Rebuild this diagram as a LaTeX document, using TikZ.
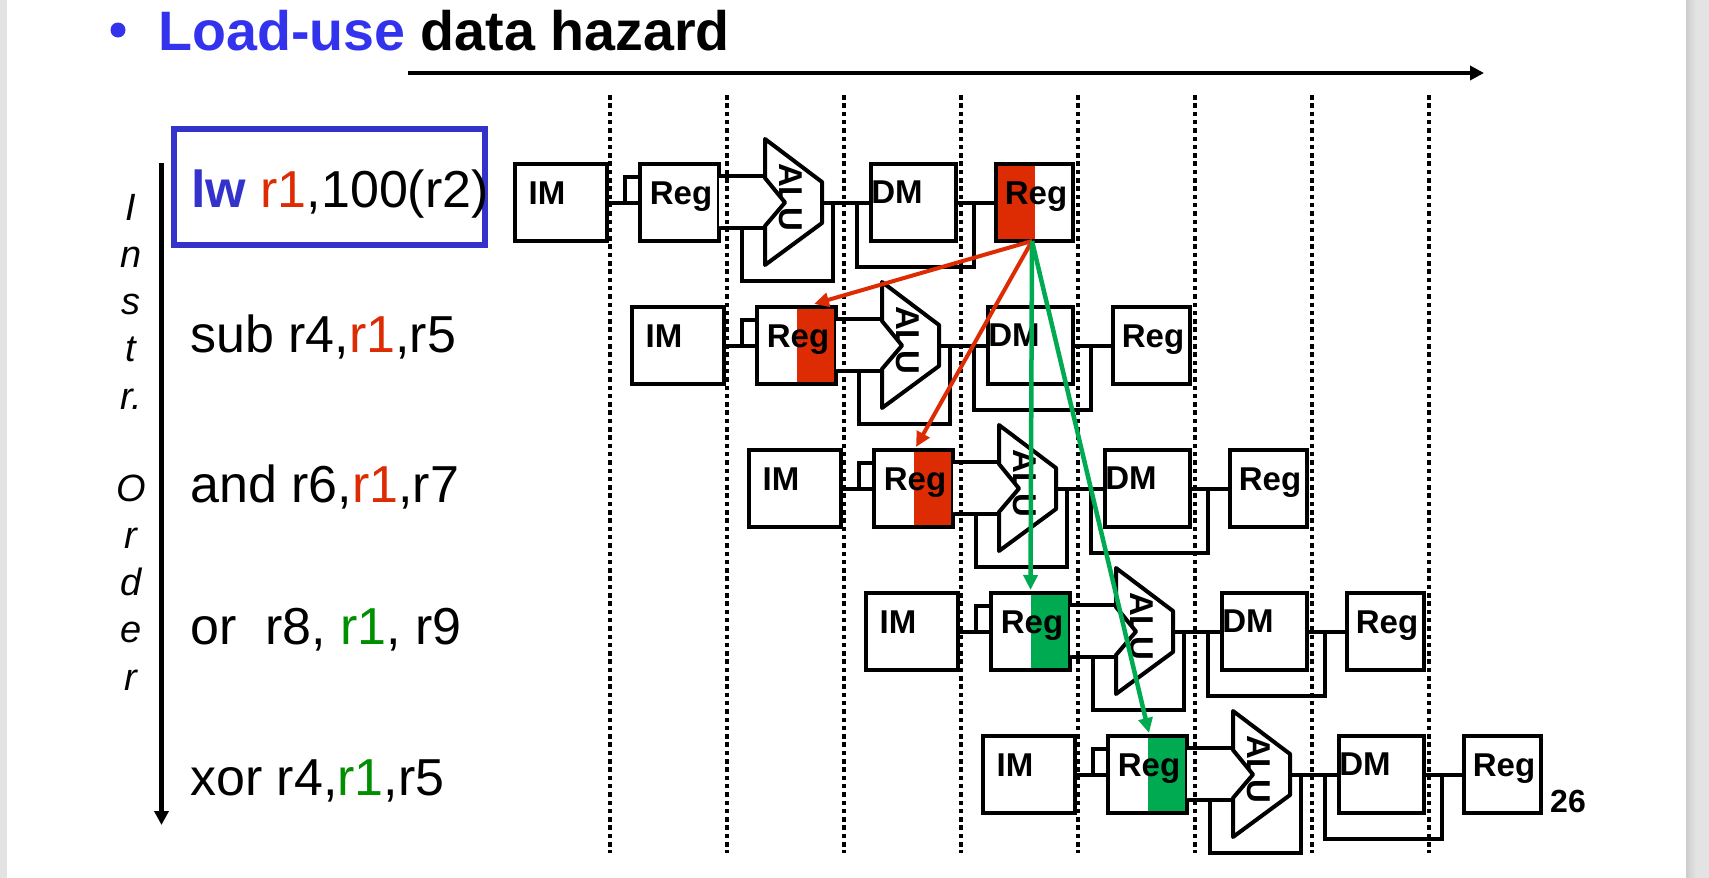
\documentclass[tikz,border=0pt]{standalone}
\usepackage{fontspec}
\setmainfont{Liberation Sans}
\usetikzlibrary{arrows.meta}
\definecolor{titleblue}{HTML}{3333EE}
\definecolor{lwblue}{HTML}{3333CC}
\definecolor{hazred}{HTML}{DD2C04}
\definecolor{hazgreen}{HTML}{00AA50}
\definecolor{textgreen}{HTML}{008F00}
\definecolor{sidegray}{HTML}{E3E3E3}
\definecolor{sidedark}{HTML}{CDCDCD}
\tikzset{
  stagebox/.style={draw,fill=white,line width=4pt,minimum height=77pt,inner sep=0pt},
  stagetext/.style={font=\fontsize{33}{36}\bfseries\selectfont,inner sep=0pt},
  wire/.style={line width=4pt},
  plainreg/.style={},
  redleft/.style={path picture={\fill[hazred] (path picture bounding box.north) rectangle (path picture bounding box.south west);}},
  redright/.style={path picture={\fill[hazred] (path picture bounding box.north) rectangle (path picture bounding box.south east);}},
  greenright/.style={path picture={\fill[hazgreen] (path picture bounding box.north) rectangle (path picture bounding box.south east);}},
  instr/.style={font=\fontsize{52}{56}\selectfont,anchor=base west,inner sep=0pt},
  cycleline/.style={line width=4.5pt,dash pattern=on 4.5pt off 3.8pt},
  axisarrow/.style={line width=4.5pt,-{Triangle[length=14pt,width=14pt]}},
  hazarrow/.style={line width=4.5pt,-{Triangle[length=15pt,width=14pt]}},
}
\newcommand{\alupath}{(765,139) -- (822,182) -- (822,223) -- (765,265) -- (765,226) -- (785,202.5) -- (765,178) -- cycle}
\begin{document}
\begin{tikzpicture}[x=1pt,y=-1pt]
\useasboundingbox (0,0) rectangle (1709,878);
% Slide edges
\fill[sidegray] (0,0) rectangle (7,878);
\fill[sidegray] (1696,0) rectangle (1709,878);
\shade[left color=sidedark,right color=sidegray] (1686,0) rectangle (1696,878);
% Title
\fill[titleblue] (118,30) circle (7.5);
\node[font=\fontsize{55.6}{60}\bfseries\selectfont,anchor=base west,inner sep=0pt] (title) at (158,50) {\textcolor{titleblue}{Load-use} data hazard};
% Time axis
\coordinate (timestart) at (408,73);
\coordinate (timeend) at (1484,73);
\draw[axisarrow] (timestart) -- (timeend);
% Instruction order axis
\coordinate (orderstart) at (161.5,163);
\coordinate (orderend) at (161.5,825);
\draw[axisarrow] (orderstart) -- (orderend);
\node[font=\fontsize{38}{47.2}\itshape\selectfont,align=center,anchor=north,inner sep=0pt] (order) at (131,194) {I\\n\\s\\t\\r.\\[45pt]O\\r\\d\\e\\r};
% Instructions
\node[draw=lwblue,line width=6pt,minimum width=311pt,minimum height=116pt,inner sep=0pt] (lwbox) at (329.5,187) {};
\node[instr] (lw) at (191,207) {{\bfseries\color{lwblue}lw} \textcolor{hazred}{r1},100(r2)};
\node[instr] (sub) at (190,352) {sub r4,\textcolor{hazred}{r1},r5};
\node[instr] (and) at (190,502) {and r6,\textcolor{hazred}{r1},r7};
\node[instr] (or) at (190,644) {or\ \ r8, \textcolor{textgreen}{r1}, r9};
\node[instr] (xor) at (190,795) {xor r4,\textcolor{textgreen}{r1},r5};
% Pipeline rows
\foreach \r/\first/\last in {1/plainreg/redleft,2/redright/plainreg,3/redright/plainreg,4/greenright/plainreg,5/greenright/plainreg}{
  \pgfmathsetmacro\dx{117*(\r-1)}
  \pgfmathsetmacro\dy{143*(\r-1)}
  \begin{scope}[shift={(\dx,\dy)}]
    \node[stagebox,minimum width=92pt] (im\r) at (561,202.5) {};
    \node[stagebox,minimum width=79pt,\first] (rega\r) at (679.5,202.5) {};
    \node[stagebox,minimum width=85pt] (dm\r) at (913.5,202.5) {};
    \node[stagebox,minimum width=77pt,\last] (regb\r) at (1034.5,202.5) {};
    \node[stagetext] (imtext\r) at (547,193) {IM};
    \node[stagetext] (regatext\r) at (681,197) {Reg};
    \node[stagetext] (dmtext\r) at (897,192.5) {DM};
    \node[stagetext] (regbtext\r) at (1036,197) {Reg};
    % ALU
    \fill[white] \alupath;
    \node[stagetext,rotate=-90] (alu\r) at (791,197) {ALU};
    \fill[white] (719,178) -- (765,178) -- (785,202.5) -- (765,226) -- (719,226) -- cycle;
    \draw[wire,line join=round] \alupath;
    \coordinate (aluup\r) at (765,176);
    \coordinate (aludown\r) at (765,228);
    \coordinate (aluout\r) at (824,202.5);
    \coordinate (imtap\r) at (625,202.5);
    \coordinate (downtap\r) at (742,228);
    \coordinate (outtap\r) at (833,202.5);
    \coordinate (dmin\r) at (857,202.5);
    \coordinate (dmout\r) at (974,202.5);
    % Wires
    \draw[wire] (im\r.east) -- (rega\r.west);
    \draw[wire] (imtap\r) -- ++(0,-26) -- ++(14,0);
    \draw[wire] (rega\r.east |- aluup\r) -- (aluup\r);
    \draw[wire] (rega\r.east |- aludown\r) -- (aludown\r);
    \draw[wire] (downtap\r) -- ++(0,53) -| (outtap\r);
    \draw[wire] (aluout\r) -- (dm\r.west);
    \draw[wire] (dmin\r) -- ++(0,64.5) -| (dmout\r);
    \draw[wire] (dm\r.east) -- (regb\r.west);
  \end{scope}
}
% Clock cycles
\foreach \x in {610,727,...,1429}
  \draw[cycleline] (\x,95) -- (\x,853);
% Hazards
\coordinate (hazsrc) at (1032,241);
\draw[hazarrow,hazred,line width=4pt] (hazsrc) -- ([xshift=17.5pt,yshift=1pt]rega2.north);
\draw[hazarrow,hazred,line width=4pt] (hazsrc) -- ([xshift=2.5pt,yshift=1pt]rega3.north);
\draw[hazarrow,hazgreen] (hazsrc) -- ([yshift=1pt]rega4.north);
\draw[hazarrow,hazgreen] (hazsrc) -- ([xshift=1.5pt,yshift=1pt]rega5.north);
% Slide number
\node[font=\fontsize{32}{34}\bfseries\selectfont,anchor=base west,inner sep=0pt] (pagenum) at (1550,812) {26};
\end{tikzpicture}
\end{document}
